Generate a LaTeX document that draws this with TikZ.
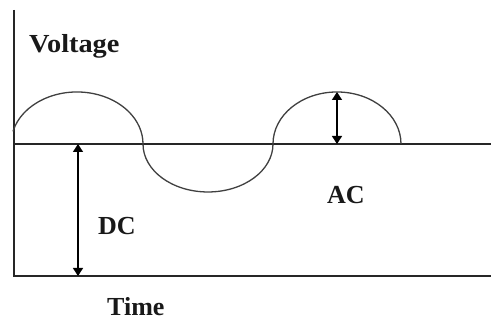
\documentclass[tikz,border=0pt]{standalone}
\usepackage{fontspec}
\setmainfont{Liberation Serif}
\usetikzlibrary{arrows.meta}
\begin{document}
\begin{tikzpicture}[x=1pt,y=1pt,
  axisline/.style={line width=2pt,black!85},
  waveline/.style={line width=1.3pt,black!75},
  measure/.style={line width=1.3pt,black,{Triangle[width=10pt,length=8pt]}-{Triangle[width=10pt,length=8pt]}},
  lbl/.style={font=\fontsize{26}{29}\selectfont\bfseries,inner sep=0pt,anchor=base west,text=black!90}]
\useasboundingbox (0,0) rectangle (491,323);
\fill[white] (0,0) rectangle (491,323);
% axes
\coordinate (vtop) at (13.5,313);
\coordinate (origin) at (13.5,47);
\coordinate (tend) at (491,47);
\coordinate (dcstart) at (13.5,179);
\coordinate (dcend) at (491,179);
\draw[axisline] (vtop) -- (origin) -- (tend);
\draw[axisline] (dcstart) -- (dcend);
% wave
\draw[waveline] (12.96,191.6) arc[start angle=166,end angle=0,x radius=66,y radius=52]
  arc[start angle=180,end angle=360,x radius=65,y radius=48]
  arc[start angle=180,end angle=0,x radius=64,y radius=52];
% arrows
\coordinate (dctop) at (78,179);
\coordinate (dcbot) at (78,47);
\coordinate (actop) at (337,231);
\coordinate (acbot) at (337,179);
\draw[measure] (dctop) -- (dcbot);
\draw[measure] (actop) -- (acbot);
% labels
\node[lbl] (volt) at (29,270) {\scalebox{1.09}[1]{Voltage}};
\node[lbl] (dc) at (98,88) {DC};
\node[lbl] (ac) at (327,119) {AC};
\node[lbl] (time) at (107,7) {Time};
\end{tikzpicture}
\end{document}
